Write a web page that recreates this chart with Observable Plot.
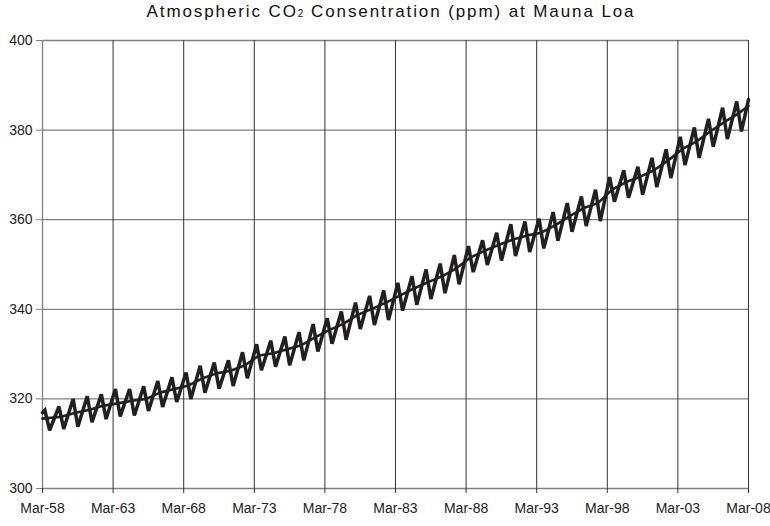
<!DOCTYPE html>
<html><head><meta charset="utf-8">
<script src="https://cdn.jsdelivr.net/npm/d3@7"></script>
<script src="https://cdn.jsdelivr.net/npm/@observablehq/plot@0.6"></script>
<style>
body{margin:0;background:#fff;}
#title{font-family:"Liberation Sans",sans-serif;font-size:17px;letter-spacing:1.9px;text-align:center;height:26px;line-height:24px;color:#111;padding-left:12px;}
#title sub{font-size:10px;vertical-align:baseline;letter-spacing:1px;}
</style></head><body>
<div id="title">Atmospheric CO<sub>2</sub> Consentration (ppm) at Mauna Loa</div>
<div id="chart"></div>
<script>
// yearly May peaks and Sep troughs (ppm), 1958..2007
const years = d3.range(1958, 2008);
const peaks = [317.5,318.3,320.0,320.6,321.0,322.2,322.2,322.8,324.0,324.8,325.9,327.4,328.1,328.6,330.4,332.2,333.0,333.9,334.9,336.7,338.0,339.5,341.5,343.0,344.2,345.9,347.4,348.9,350.2,352.1,354.1,355.4,357.1,359.0,359.6,360.2,361.7,363.7,365.2,366.7,369.5,371.0,371.8,373.8,375.7,378.5,380.6,382.5,385.0,386.4];
const troughs = [313.0,313.3,313.8,314.8,315.5,316.1,316.3,317.3,318.2,319.3,320.0,321.4,322.3,322.9,324.6,326.4,327.2,327.5,328.6,330.6,332.3,333.2,335.6,336.5,337.6,339.7,341.0,342.3,343.6,345.6,348.3,349.9,350.9,351.9,352.8,353.6,355.3,357.3,358.6,359.7,364.0,364.9,365.6,367.3,369.3,372.2,373.8,376.3,378.0,379.7];
const startValue = 316.9; // Mar-58
const endValue = 386.8;   // Mar-08
// annual means (trend)
const annualMeans = [315.3,316.0,316.9,317.6,318.5,319.0,319.6,320.0,321.4,322.2,323.0,324.6,325.7,326.3,327.5,329.7,330.2,331.1,332.0,333.8,335.4,336.8,338.8,340.1,341.5,343.1,344.7,346.1,347.4,349.2,351.6,353.1,354.4,355.6,356.5,357.1,358.8,360.8,362.6,363.7,366.7,368.4,369.6,371.1,373.3,375.8,377.5,379.8,381.9,383.8];
const trendStart = 315.6, trendEnd = 385.4;
const tickYears = [1958,1963,1968,1973,1978,1983,1988,1993,1998,2003,2008];
const yTicks = [300,320,340,360,380,400];

const D = (y, m) => new Date(Date.UTC(y, m, 1));
const zig = [{date: D(1958,2), v: startValue}];
years.forEach((y, i) => {
  zig.push({date: D(y,4), v: peaks[i]});
  zig.push({date: D(y,8), v: troughs[i]});
});
zig.push({date: D(2008,2), v: endValue});
const trend = [{date: D(1958,2), v: trendStart}];
years.forEach((y, i) => { if (y > 1958) trend.push({date: D(y,6), v: annualMeans[i]}); });
trend.push({date: D(2008,2), v: trendEnd});
const tickDates = tickYears.map(y => D(y,2));

const font = '"Liberation Sans",sans-serif';
const chart = Plot.plot({
  width: 770, height: 500,
  marginTop: 14, marginBottom: 38, marginLeft: 42, marginRight: 22,
  style: {fontFamily: font, fontSize: "14px", color: "#222", background: "#fff", overflow: "visible"},
  x: {type: "utc", domain: [D(1958,2), D(2008,2)]},
  y: {domain: [300, 400]},
  marks: [
    Plot.ruleY(yTicks, {stroke: "#808080", strokeWidth: 1.3}),
    Plot.ruleX(tickDates, {stroke: "#333", strokeWidth: 1}),
    Plot.ruleX([tickDates[0]], {stroke: "#808080", strokeWidth: 1.3}),
    Plot.axisY({ticks: yTicks, tickSize: 6, tickPadding: 4, stroke: "#808080", label: null}),
    Plot.axisX({ticks: tickDates, tickSize: 5, tickPadding: 10, tickFormat: d3.utcFormat("%b-%y"), stroke: "#333", label: null}),
    Plot.line(zig, {x: "date", y: "v", stroke: "#231f20", strokeWidth: 3.5, strokeLinejoin: "miter", strokeMiterlimit: 3}),
    Plot.line(trend, {x: "date", y: "v", stroke: "#231f20", strokeWidth: 2.6})
  ]
});
document.getElementById("chart").appendChild(chart);
</script>
</body></html>
